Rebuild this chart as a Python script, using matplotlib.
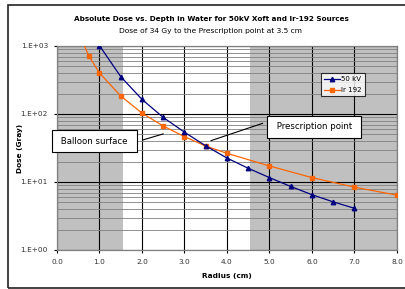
import matplotlib.pyplot as plt
from matplotlib.patches import Rectangle

# data
radius_kv = [1.0, 1.5, 2.0, 2.5, 3.0, 3.5, 4.0, 4.5, 5.0, 5.5, 6.0, 6.5, 7.0]
dose_kv = [1010, 354, 164, 89, 54, 34, 22.5, 15.9, 11.6, 8.6, 6.5, 5.1, 4.1]

radius_ir = [0.5, 0.75, 1.0, 1.5, 2.0, 2.5, 3.0, 3.5, 4.0, 5.0, 6.0, 7.0, 8.0]
dose_ir = [1600, 713, 401, 184, 103, 66.6, 46.4, 33.8, 26.4, 17.2, 11.6, 8.4, 6.4]

x_ticks = [0, 1, 2, 3, 4, 5, 6, 7, 8]
y_ticks = [1, 10, 100, 1000]
y_tick_labels = ['1.E+00', '1.E+01', '1.E+02', '1.E+03']

fig = plt.figure(figsize=(4.06, 2.89), dpi=100)
W, H = 406, 289
ax = fig.add_axes([57 / W, 1 - 250 / H, 340 / W, 204 / H])

# grey shaded bands
ax.axvspan(0, 1.55, color='#c0c0c0', zorder=0, lw=0)
ax.axvspan(4.55, 8, color='#c0c0c0', zorder=0, lw=0)

ax.set_yscale('log')
ax.set_xlim(0, 8)
ax.set_ylim(1, 1000)

ax.set_xticks(x_ticks)
ax.set_xticklabels(['%.1f' % t for t in x_ticks], fontsize=5.3, color='#333333')
ax.set_yticks(y_ticks)
ax.set_yticklabels(y_tick_labels, fontsize=5.3, color='#333333')
ax.tick_params(axis='y', which='minor', length=0)
ax.tick_params(axis='both', which='major', length=2.5, width=0.8, pad=4)

ax.grid(True, which='major', color='black', lw=0.8, zorder=1)
ax.grid(True, which='minor', axis='y', color='#808080', lw=0.6, zorder=1)
ax.set_axisbelow(True)
for s in ax.spines.values():
    s.set_color('#808080')
    s.set_linewidth(0.9)

ax.plot(radius_kv, dose_kv, color='#000080', lw=0.9, marker='^', ms=3.2,
        label='50 kV', zorder=4)
ax.plot(radius_ir, dose_ir, color='#ff6600', lw=0.9, marker='s', ms=2.8,
        label='Ir 192', zorder=3)

leg = ax.legend(loc='upper left', bbox_to_anchor=((321 - 57) / 340, 1 - (73 - 46) / 204),
                fontsize=5, frameon=True, fancybox=False, handlelength=2.3,
                borderpad=0.45, labelspacing=0.7, handletextpad=0.15,
                borderaxespad=0)
leg.get_frame().set_edgecolor('black')
leg.get_frame().set_linewidth(0.8)

box = dict(boxstyle='square,pad=0.75', fc='white', ec='black', lw=0.8)
line = dict(arrowstyle='-', color='black', lw=0.8, shrinkA=0, shrinkB=0)

ax.text(0.88, 39.5, ' Balloon surface ', fontsize=6.2, ha='center',
        va='center', bbox=box, zorder=6)
ax.annotate('', xy=(2.5, 51), xytext=(2.02, 41.5), arrowprops=line, zorder=6)

ax.text(6.05, 64.4, ' Prescription point ', fontsize=6.2, ha='center',
        va='center', bbox=box, zorder=6)
ax.annotate('', xy=(3.62, 40.5), xytext=(4.84, 73), arrowprops=line, zorder=6)

ax.set_xlabel('Radius (cm)', fontsize=5.3, fontweight='bold')
ax.xaxis.set_label_coords(0.5, -(273 - 250) / 204)
ax.set_ylabel('Dose (Gray)', fontsize=5.3, fontweight='bold')
ax.yaxis.set_label_coords(-(57 - 23) / 340, 0.5)

fig.text(211 / W, 1 - 19 / H,
         'Absolute Dose vs. Depth in Water for 50kV Xoft and Ir-192 Sources',
         fontsize=5.2, fontweight='bold', ha='center', va='center')
fig.text(211 / W, 1 - 31 / H, 'Dose of 34 Gy to the Prescription point at 3.5 cm',
         fontsize=5.4, ha='center', va='center')

# chart area border
fig.patches.append(Rectangle((8 / W, 1 - 288 / H), 420 / W, 283 / H,
                             transform=fig.transFigure, fill=False,
                             ec='#222222', lw=1.2))

fig.savefig('out.png', dpi=100)
